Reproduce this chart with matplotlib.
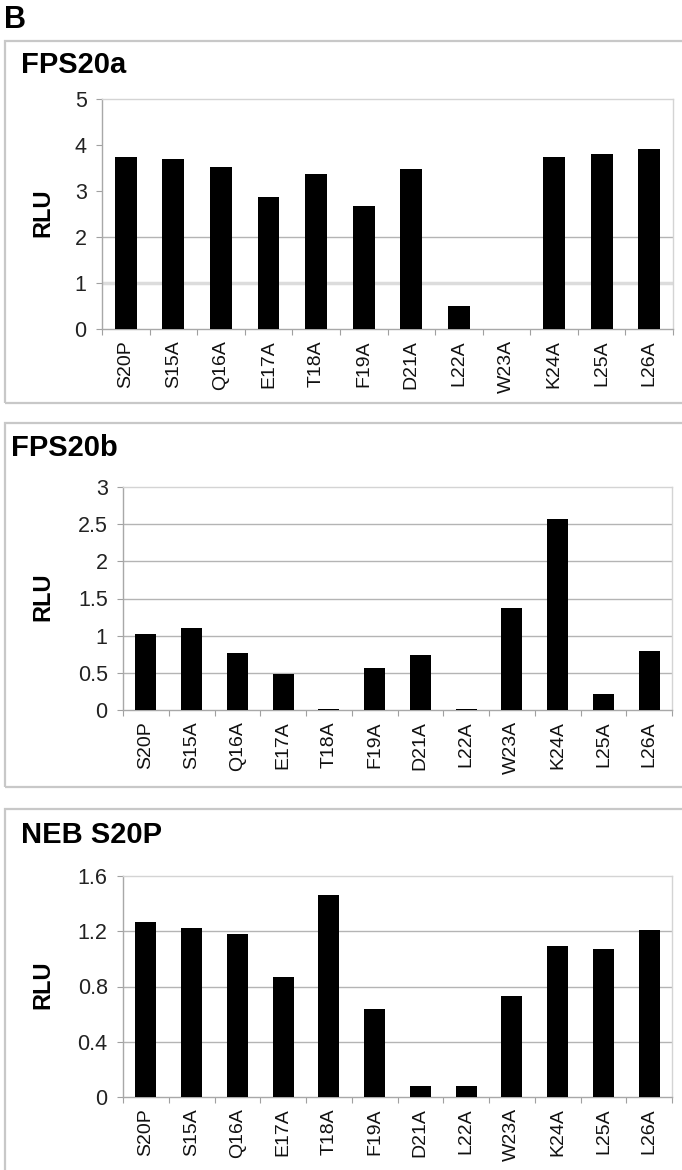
import matplotlib
matplotlib.use("Agg")
import matplotlib.pyplot as plt
from matplotlib.patches import Rectangle
import numpy as np

plt.rcParams['font.family'] = ['Liberation Sans', 'DejaVu Sans']

categories = ["S20P", "S15A", "Q16A", "E17A", "T18A", "F19A", "D21A",
              "L22A", "W23A", "K24A", "L25A", "L26A"]

fps20a = [3.73, 3.69, 3.53, 2.87, 3.36, 2.67, 3.47, 0.50, 0.0, 3.73, 3.80, 3.92]
fps20b = [1.02, 1.10, 0.77, 0.49, 0.02, 0.57, 0.74, 0.02, 1.37, 2.57, 0.22, 0.80]
neb_s20p = [1.27, 1.22, 1.18, 0.87, 1.46, 0.64, 0.08, 0.08, 0.73, 1.09, 1.07, 1.21]

titles = ["FPS20a", "FPS20b", "NEB S20P"]
yticks_a = [0, 1, 2, 3, 4, 5]
yticks_b = [0, 0.5, 1, 1.5, 2, 2.5, 3]
yticks_c = [0, 0.4, 0.8, 1.2, 1.6]
ytick_labels_a = ["0", "1", "2", "3", "4", "5"]
ytick_labels_b = ["0", "0.5", "1", "1.5", "2", "2.5", "3"]
ytick_labels_c = ["0", "0.4", "0.8", "1.2", "1.6"]

W, H = 682, 1170
fig = plt.figure(figsize=(W / 100, H / 100), dpi=100)


def fx(px):
    return px / W


def fy(py):
    return 1 - py / H


# Letter B
fig.text(fx(4), fy(28), "B", fontsize=22, fontweight="bold", ha="left", va="baseline")

# panel boxes (top, bottom in pixels)
boxes = [(41, 403), (423, 787), (809, 1180)]
for top, bot in boxes:
    fig.add_artist(Rectangle((fx(5), fy(bot)), 1.0, fy(top) - fy(bot),
                             transform=fig.transFigure, fill=False,
                             edgecolor="#c8c8c8", linewidth=1.6, clip_on=False))

# axes rectangles: left, top, right, bottom in pixels
axes_px = [(102, 99, 673, 329), (123, 487, 672, 710), (123, 876, 672, 1097)]
data = [fps20a, fps20b, neb_s20p]
yt = [yticks_a, yticks_b, yticks_c]
ytl = [ytick_labels_a, ytick_labels_b, ytick_labels_c]
title_pos = [(21, 73), (11, 456), (21, 843)]
rlu_pos = [(43, 213), (43, 597), (43, 985)]
grid_sets = [[2], [0.5, 1, 1.5, 2, 2.5], [0.4, 0.8, 1.2]]

for i in range(3):
    l, t, r, b = axes_px[i]
    ax = fig.add_axes([fx(l), fy(b), fx(r) - fx(l), fy(t) - fy(b)])
    x = np.arange(len(categories))
    # gridlines
    if i == 0:
        ax.axhline(1, color="#dcdcdc", linewidth=2.5, zorder=1)
    for g in grid_sets[i]:
        ax.axhline(g, color="#b4b4b4", linewidth=1.0, zorder=1)
    ax.bar(x, data[i], width=0.46, color="black", zorder=3)
    ax.set_xlim(-0.5, len(categories) - 0.5)
    ax.set_ylim(yt[i][0], yt[i][-1])
    ax.set_yticks(yt[i])
    ax.set_yticklabels(ytl[i])
    ax.set_xticks(x)
    ax.set_xticklabels(categories, rotation=90)
    ax.set_xticks(np.arange(len(categories) + 1) - 0.5, minor=True)
    ax.tick_params(axis="x", which="major", length=0, pad=8, labelsize=14, labelcolor="#111111")
    ax.tick_params(axis="x", which="minor", length=4, width=0.8, color="#a0a0a0", direction="out")
    ax.tick_params(axis="y", length=4, width=0.8, color="#a0a0a0", pad=7, labelsize=15.5, labelcolor="#222222")
    for s in ["left", "bottom"]:
        ax.spines[s].set_color("#a8a8a8")
        ax.spines[s].set_linewidth(1.0)
    for s in ["top", "right"]:
        ax.spines[s].set_color("#d4d4d4")
        ax.spines[s].set_linewidth(1.0)
    tx, ty = title_pos[i]
    fig.text(fx(tx), fy(ty), titles[i], fontsize=21, fontweight="bold", ha="left", va="baseline")
    rx, ry = rlu_pos[i]
    fig.text(fx(rx), fy(ry), "RLU", fontsize=17, fontweight="bold", rotation=90, ha="center", va="center")

fig.savefig("out.png", dpi=100)
